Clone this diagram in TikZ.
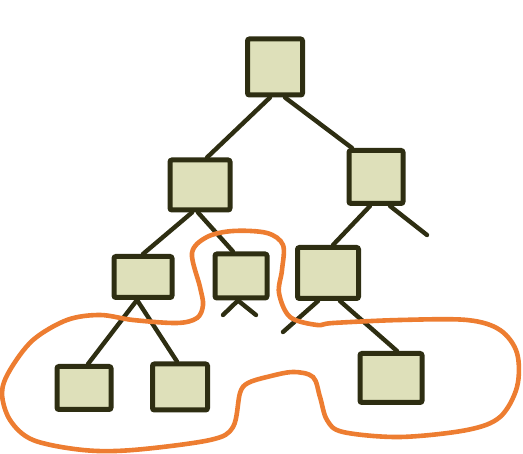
\documentclass[tikz,border=0pt]{standalone}
\usetikzlibrary{backgrounds}
\definecolor{boxfill}{HTML}{DEE0BA}
\definecolor{ink}{HTML}{2E2E12}
\definecolor{hull}{HTML}{ED7D31}
\tikzset{
  treebox/.style={draw=ink, fill=boxfill, line width=5pt, rounded corners=2pt, inner sep=0pt},
  branch/.style={draw=ink, line width=4.4pt, line cap=round},
  hullline/.style={draw=hull, line width=4.6pt}
}
\begin{document}
\begin{tikzpicture}[x=1pt,y=-1pt]
\useasboundingbox (0,0) rectangle (523,454);
% tree nodes
\node[treebox, minimum width=55pt, minimum height=56pt] (r) at (275,67) {};
\node[treebox, minimum width=60pt, minimum height=50pt] (l) at (200,185) {};
\node[treebox, minimum width=54pt, minimum height=53pt] (rr) at (376,177) {};
\node[treebox, minimum width=58pt, minimum height=41pt] (a) at (143,277) {};
\node[treebox, minimum width=52pt, minimum height=44pt] (b) at (241,276) {};
\node[treebox, minimum width=61pt, minimum height=51pt] (c) at (328,273) {};
\node[treebox, minimum width=54pt, minimum height=43pt] (aa) at (84,388) {};
\node[treebox, minimum width=55pt, minimum height=46pt] (ab) at (180,387) {};
\node[treebox, minimum width=62pt, minimum height=49pt] (cc) at (391,378) {};
% loose branch ends
\coordinate (rd) at (427,235);
\coordinate (bl) at (223,315);
\coordinate (br) at (256,315);
\coordinate (cd) at (283,332);
% branches behind the boxes
\begin{scope}[on background layer]
\draw[branch] ([xshift=-5pt]r.south) -- ([xshift=7pt]l.north);
\draw[branch] ([xshift=10pt]r.south) -- ([xshift=-24pt]rr.north);
\draw[branch] ([xshift=-6pt]rr.south) -- ([xshift=5pt]c.north);
\draw[branch] ([xshift=14pt]rr.south) -- (rd);
\draw[branch] ([xshift=-8pt]l.south) -- (a.north);
\draw[branch] ([xshift=-2pt]l.south) -- ([xshift=-8pt]b.north);
\draw[branch] ([xshift=-6pt]a.south) -- ([xshift=4pt]aa.north);
\draw[branch] ([xshift=-6pt]a.south) -- ([xshift=-3pt]ab.north);
\draw[branch] ([xshift=-3pt]b.south) -- (bl);
\draw[branch] ([xshift=-3pt]b.south) -- (br);
\draw[branch] ([xshift=-10pt]c.south) -- (cd);
\draw[branch] ([xshift=12pt]c.south) -- ([xshift=6pt]cc.north);
\end{scope}
% hull outline around the selected nodes
\draw[hullline] plot[smooth cycle, tension=0.55] coordinates {
  (192,253) (207,237) (233,231) (267,233) (283,245) (282,270) (279,293)
  (290,317) (317,325) (333,323) (400,320) (467,320) (500,330) (517,353)
  (517,387) (500,417) (467,430) (400,437) (343,432) (327,420) (320,397)
  (313,377) (293,372) (267,377) (248,383) (240,393) (233,427) (210,440)
  (133,450) (83,450) (33,440) (10,420) (2,393) (10,370) (33,340) (67,320)
  (100,315) (133,320) (177,323) (197,318) (203,305) (200,287)
};
\end{tikzpicture}
\end{document}
